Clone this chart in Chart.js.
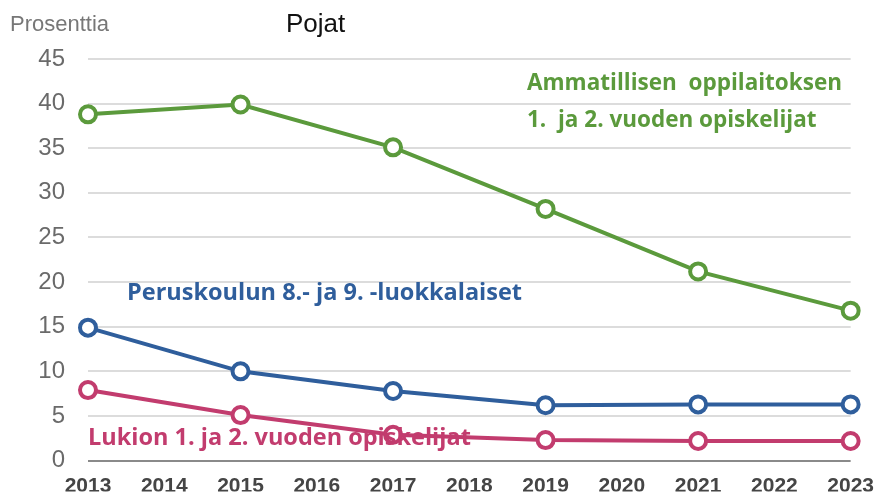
<!DOCTYPE html>
<html>
<head>
<meta charset="utf-8">
<script src="https://cdn.jsdelivr.net/npm/chart.js@4"></script>
<style>
  html, body { margin: 0; padding: 0; background: #fff; }
  #wrap { width: 879px; height: 498px; }
</style>
</head>
<body>
<div id="wrap"><canvas id="chart" width="879" height="498"></canvas></div>
<script>
const years = ['2013', '2014', '2015', '2016', '2017', '2018', '2019', '2020', '2021', '2022', '2023'];
// survey every second year, gaps in between
const ammatillinen = [38.8, null, 39.9, null, 35.1, null, 28.2, null, 21.2, null, 16.8];
const peruskoulu = [14.9, null, 10.0, null, 7.8, null, 6.2, null, 6.3, null, 6.3];
const lukio = [7.9, null, 5.1, null, 2.9, null, 2.3, null, 2.2, null, 2.2];
const yTicks = [0, 5, 10, 15, 20, 25, 30, 35, 40, 45];

const GREEN = '#5b9a3c';
const BLUE = '#2f5e9c';
const PINK = '#c23c6e';

// text labels drawn on top of the plot
const textPlugin = {
    id: 'texts',
    afterDatasetsDraw(chart) {
        const ctx = chart.ctx;
        ctx.save();
        ctx.textBaseline = 'middle';
        ctx.textAlign = 'left';

        ctx.fillStyle = '#777';
        ctx.font = '22px "Liberation Sans", Arial, sans-serif';
        ctx.fillText('Prosenttia', 10, 25);

        ctx.fillStyle = '#111';
        ctx.font = '26px "Liberation Sans", Arial, sans-serif';
        ctx.fillText('Pojat', 286, 25);

        ctx.font = 'bold 22.5px "Open Sans", sans-serif';
        ctx.fillStyle = GREEN;
        ctx.fillText('Ammatillisen  oppilaitoksen', 527, 84);
        ctx.fillText('1.  ja 2. vuoden opiskelijat', 527, 121);

        ctx.font = 'bold 23.5px "Open Sans", sans-serif';
        ctx.fillStyle = BLUE;
        ctx.fillText('Peruskoulun 8.- ja 9. -luokkalaiset', 127, 293);

        ctx.fillStyle = PINK;
        ctx.fillText('Lukion 1. ja 2. vuoden opiskelijat', 88, 438);
        ctx.restore();
    }
};

function series(label, data, color) {
    return {
        label: label,
        data: data,
        spanGaps: true,
        borderColor: color,
        borderWidth: 4,
        pointRadius: 8,
        pointHoverRadius: 8,
        pointBorderWidth: 4,
        pointBackgroundColor: '#fff',
        pointBorderColor: color,
        tension: 0
    };
}

new Chart(document.getElementById('chart'), {
    type: 'line',
    data: {
        labels: years,
        datasets: [
            series('Ammatillisen oppilaitoksen 1. ja 2. vuoden opiskelijat', ammatillinen, GREEN),
            series('Peruskoulun 8.- ja 9. -luokkalaiset', peruskoulu, BLUE),
            series('Lukion 1. ja 2. vuoden opiskelijat', lukio, PINK)
        ]
    },
    options: {
        responsive: false,
        animation: false,
        layout: { padding: { left: 0, right: 28, top: 59, bottom: 0 } },
        scales: {
            x: {
                offset: false,
                grid: { display: false },
                border: { display: false },
                ticks: {
                    color: '#454545',
                    font: { family: '"Liberation Sans", Arial, sans-serif', size: 21, weight: 'bold' },
                    maxRotation: 0,
                    autoSkip: false,
                    padding: 5
                },
                afterFit(scale) { scale.height = 31; }
            },
            y: {
                min: 0,
                max: 45,
                afterBuildTicks(scale) { scale.ticks = yTicks.map(v => ({ value: v })); },
                grid: {
                    color: ctx => ctx.tick && ctx.tick.value === 0 ? '#8a8a8a' : '#dcdcdc',
                    lineWidth: 2,
                    drawTicks: false
                },
                border: { display: false },
                ticks: {
                    color: '#6a6a6a',
                    font: { family: '"Liberation Sans", Arial, sans-serif', size: 24 },
                    padding: 23
                },
                afterFit(scale) { scale.width = 88; }
            }
        },
        plugins: {
            legend: { display: false },
            tooltip: { enabled: false }
        }
    },
    plugins: [textPlugin]
});
</script>
</body>
</html>
